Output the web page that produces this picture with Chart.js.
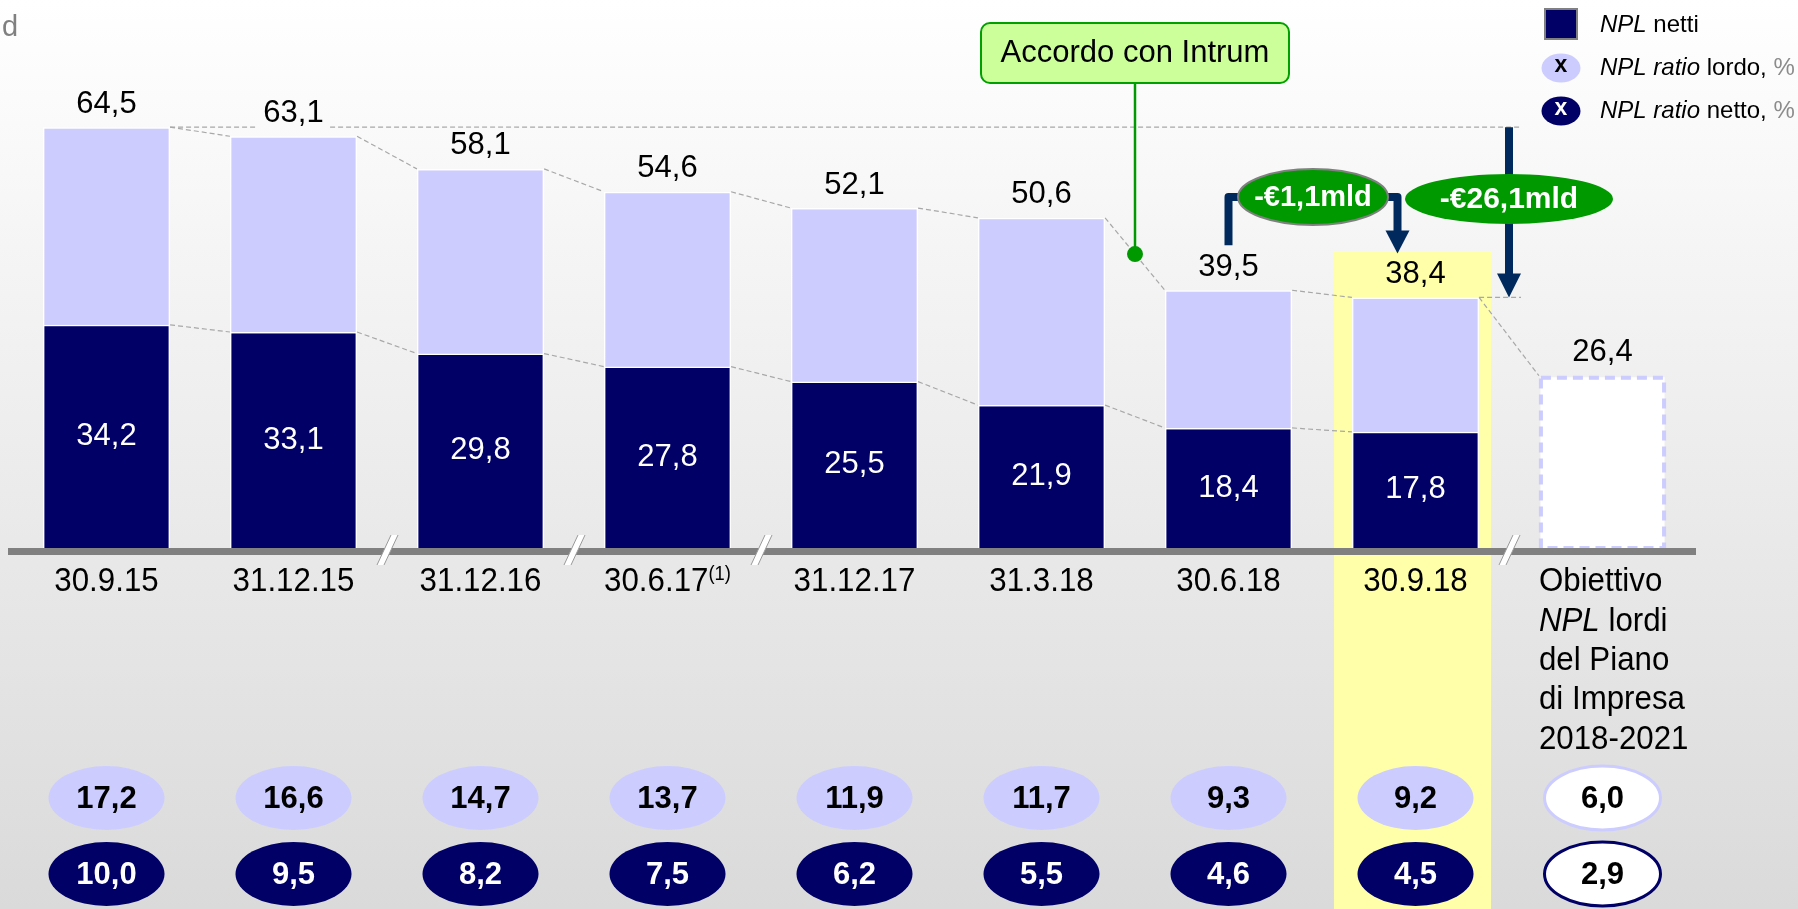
<!DOCTYPE html>
<html>
<head>
<meta charset="utf-8">
<script src="https://cdn.jsdelivr.net/npm/chart.js@4.4.0/dist/chart.umd.min.js"></script>
<style>
  html, body { margin: 0; padding: 0; background: #fff; }
  #nplChart { display: block; width: 1798px; height: 909px; }
</style>
</head>
<body>
<canvas id="nplChart" width="1798" height="909"></canvas>
<script>
const categories = ['30.9.15', '31.12.15', '31.12.16', '30.6.17', '31.12.17', '31.3.18', '30.6.18', '30.9.18', 'Obiettivo NPL lordi del Piano di Impresa 2018-2021'];
const tickLabels = [['30.9.15'], ['31.12.15'], ['31.12.16'], ['30.6.17^(1)'], ['31.12.17'], ['31.3.18'], ['30.6.18'], ['30.9.18'],
  ['Obiettivo', '*NPL* lordi', 'del Piano', 'di Impresa', '2018-2021']];
const nplLordi = [64.5, 63.1, 58.1, 54.6, 52.1, 50.6, 39.5, 38.4, 26.4];
const nplNetti = [34.2, 33.1, 29.8, 27.8, 25.5, 21.9, 18.4, 17.8, null];
const ratioLordo = [17.2, 16.6, 14.7, 13.7, 11.9, 11.7, 9.3, 9.2, 6.0];
const ratioNetto = [10.0, 9.5, 8.2, 7.5, 6.2, 5.5, 4.6, 4.5, 2.9];
const axisBreaks = [1, 2, 3, 7];   // break mark after these categories
const highlightIndex = 7;
const targetIndex = 8;

const FONT = '"Liberation Sans", Arial, sans-serif';
const NAVY = '#000066';
const LILAC = '#ccccff';
const GREEN = '#009900';
const ARROW = '#002a5e';
const fmt = v => v.toFixed(1).replace('.', ',');

function bgGradient(ctx, h) {
  const g = ctx.createLinearGradient(0, 0, 0, h);
  g.addColorStop(0, '#ffffff');
  g.addColorStop(1, '#dadada');
  return g;
}

function parseRuns(s) {
  const runs = [];
  const re = /\*([^*]+)\*|\^(.+)$|([^*^]+)/g;
  let m;
  while ((m = re.exec(s))) {
    if (m[1]) runs.push({ t: m[1], italic: true });
    else if (m[2]) runs.push({ t: m[2], sup: true });
    else runs.push({ t: m[3] });
  }
  return runs;
}

function drawRuns(ctx, runs, x, y, o) {
  const size = o.size, sx = o.sx || 1;
  const fontOf = r => (r.italic ? 'italic ' : '') + (o.bold ? 'bold ' : '') +
    (r.sup ? Math.round(size * 0.6) : size) + 'px ' + FONT;
  let total = 0;
  runs.forEach(r => { ctx.font = fontOf(r); r.w = ctx.measureText(r.t).width * sx; total += r.w; });
  let cx = o.align === 'center' ? x - total / 2 : o.align === 'right' ? x - total : x;
  ctx.save();
  ctx.textAlign = 'left';
  ctx.textBaseline = 'middle';
  runs.forEach(r => {
    ctx.font = fontOf(r);
    ctx.fillStyle = r.color || o.color || '#000';
    ctx.save();
    ctx.translate(cx, y + (r.sup ? -size * 0.22 : 0));
    ctx.scale(sx, 1);
    ctx.fillText(r.t, 0, 0);
    ctx.restore();
    cx += r.w;
  });
  ctx.restore();
  return total;
}

function ellipse(ctx, cx, cy, rx, ry, fill, stroke, lw) {
  ctx.save();
  ctx.beginPath();
  ctx.ellipse(cx, cy, rx, ry, 0, 0, Math.PI * 2);
  ctx.fillStyle = fill;
  ctx.fill();
  if (stroke) { ctx.lineWidth = lw || 2; ctx.strokeStyle = stroke; ctx.stroke(); }
  ctx.restore();
}

const backdrop = {
  id: 'backdrop',
  beforeDraw(chart) {
    const { ctx, width, height, scales: { x, y } } = chart;
    const step = x.getPixelForValue(1) - x.getPixelForValue(0);
    const cx = x.getPixelForValue(highlightIndex);
    const top = y.getPixelForValue(nplLordi[highlightIndex]) - 46;
    ctx.save();
    ctx.fillStyle = bgGradient(ctx, height);
    ctx.fillRect(0, 0, width, height);
    ctx.fillStyle = '#ffffaa';
    ctx.fillRect(cx - step * 0.436, top, step * 0.84, height - top);
    ctx.fillStyle = '#808080';
    ctx.font = '29px ' + FONT;
    ctx.textBaseline = 'alphabetic';
    ctx.fillText('d', 2, 36);
    ctx.restore();
  }
};

const overlay = {
  id: 'overlay',
  afterDatasetsDraw(chart) {
    const { ctx, height, chartArea: ca, scales: { x, y } } = chart;
    const net = chart.getDatasetMeta(0).data;
    const gross = chart.getDatasetMeta(1).data;
    const half = gross[0].width / 2;
    const brk = i => (x.getPixelForValue(i) + x.getPixelForValue(i + 1)) / 2;
    const seg = (x1, y1, x2, y2) => { ctx.beginPath(); ctx.moveTo(x1, y1); ctx.lineTo(x2, y2); ctx.stroke(); };
    ctx.save();

    // dashed connectors between bar tops
    ctx.strokeStyle = '#a8a8a8';
    ctx.lineWidth = 1.2;
    ctx.setLineDash([5, 3]);
    for (let i = 0; i < gross.length - 1; i++) {
      seg(gross[i].x + half, gross[i].y, gross[i + 1].x - half, gross[i + 1].y);
      if (nplNetti[i + 1] != null) seg(net[i].x + half, net[i].y, net[i + 1].x - half, net[i + 1].y);
    }
    const reachX = brk(highlightIndex) + 12;
    seg(gross[0].x + half, gross[0].y, reachX, gross[0].y);
    seg(gross[highlightIndex].x + half, gross[highlightIndex].y, reachX, gross[highlightIndex].y);

    // target bar: dashed outline
    const t = gross[targetIndex];
    ctx.setLineDash([10, 6]);
    ctx.lineWidth = 4;
    ctx.strokeStyle = LILAC;
    ctx.strokeRect(t.x - half + 2, t.y + 2, half * 2 - 4, t.base - t.y - 2);
    ctx.setLineDash([]);

    // axis line and breaks
    ctx.fillStyle = '#808080';
    ctx.fillRect(ca.left - 5, ca.bottom, ca.right - ca.left + 5, 7);
    axisBreaks.forEach(b => {
      const cx = brk(b), yb = ca.bottom + 17, yt = ca.bottom - 13;
      ctx.beginPath();
      ctx.moveTo(cx - 10, yb); ctx.lineTo(cx - 3, yb);
      ctx.lineTo(cx + 11, yt); ctx.lineTo(cx + 4, yt);
      ctx.closePath();
      ctx.fillStyle = '#ffffff';
      ctx.fill();
      ctx.strokeStyle = '#9a9a9a';
      ctx.lineWidth = 1;
      seg(cx - 10, yb, cx + 4, yt);
      seg(cx - 3, yb, cx + 11, yt);
    });

    // value labels
    const grad = bgGradient(ctx, height);
    ctx.font = '31px ' + FONT;
    ctx.textAlign = 'center';
    ctx.textBaseline = 'middle';
    gross.forEach((b, i) => {
      const txt = fmt(nplLordi[i]);
      const ly = b.y - 23;
      if (i !== highlightIndex) {
        const w = ctx.measureText(txt).width + 12;
        ctx.fillStyle = grad;
        ctx.fillRect(b.x - w / 2, ly - 18, w, 36);
      }
      ctx.fillStyle = '#000';
      ctx.fillText(txt, b.x, ly);
    });
    net.forEach((b, i) => {
      if (nplNetti[i] == null) return;
      ctx.fillStyle = '#ffffff';
      ctx.fillText(fmt(nplNetti[i]), b.x, (b.y + b.base) / 2);
    });

    // category labels
    tickLabels.forEach((lines, i) => {
      const cx = x.getPixelForValue(i);
      const left = lines.length > 1;
      lines.forEach((ln, k) => {
        drawRuns(ctx, parseRuns(ln), left ? cx - half : cx, ca.bottom + 34 + k * 39.3,
          { size: 34, sx: 0.92, align: left ? 'left' : 'center' });
      });
    });

    // ratio ellipses
    ratioLordo.forEach((v, i) => {
      const cx = x.getPixelForValue(i);
      const last = i === targetIndex;
      ellipse(ctx, cx, 798, 58, 32, last ? '#ffffff' : LILAC, last ? LILAC : null, 3);
      drawRuns(ctx, [{ t: fmt(v) }], cx, 799, { size: 31, bold: true, align: 'center', color: '#000' });
    });
    ratioNetto.forEach((v, i) => {
      const cx = x.getPixelForValue(i);
      const last = i === targetIndex;
      ellipse(ctx, cx, 874, 58, 32, last ? '#ffffff' : NAVY, last ? NAVY : null, 3);
      drawRuns(ctx, [{ t: fmt(v) }], cx, 875, { size: 31, bold: true, align: 'center', color: last ? '#000' : '#fff' });
    });

    // legend
    ctx.fillStyle = NAVY;
    ctx.fillRect(1545, 9, 32, 30);
    ctx.strokeStyle = '#808080';
    ctx.lineWidth = 2;
    ctx.strokeRect(1545, 9, 32, 30);
    drawRuns(ctx, [{ t: 'NPL', italic: true }, { t: ' netti' }], 1600, 25, { size: 24, align: 'left' });
    ellipse(ctx, 1561, 68, 19.5, 14.5, LILAC);
    drawRuns(ctx, [{ t: 'x' }], 1561, 66, { size: 23, bold: true, align: 'center', color: '#000' });
    drawRuns(ctx, [{ t: 'NPL ratio', italic: true }, { t: ' lordo, ' }, { t: '%', color: '#8c8c8c' }], 1600, 68, { size: 24, align: 'left' });
    ellipse(ctx, 1561, 111, 19.5, 14.5, NAVY);
    drawRuns(ctx, [{ t: 'x' }], 1561, 109, { size: 23, bold: true, align: 'center', color: '#fff' });
    drawRuns(ctx, [{ t: 'NPL ratio', italic: true }, { t: ' netto, ' }, { t: '%', color: '#8c8c8c' }], 1600, 111, { size: 24, align: 'left' });

    // "Accordo con Intrum" callout
    const a = gross[5], c = gross[6];
    const bx = (a.x + c.x) / 2;
    const x1 = a.x + half, x2 = c.x - half;
    const dotY = a.y + (c.y - a.y) * (bx - x1) / (x2 - x1);
    ctx.strokeStyle = GREEN;
    ctx.lineWidth = 2.5;
    seg(bx, 83, bx, dotY);
    ellipse(ctx, bx, dotY, 8, 8, GREEN);
    ctx.beginPath();
    ctx.roundRect(bx - 154, 23, 308, 60, 9);
    ctx.fillStyle = '#ccff99';
    ctx.fill();
    ctx.strokeStyle = '#00a000';
    ctx.lineWidth = 2;
    ctx.stroke();
    drawRuns(ctx, [{ t: 'Accordo con Intrum' }], bx, 53, { size: 31, align: 'center' });

    // -€1,1mld step arrow
    const lx = gross[6].x, rx = gross[7].x - 18, armY = 197;
    const tip1 = gross[7].y - 44;
    ctx.strokeStyle = ARROW;
    ctx.fillStyle = ARROW;
    ctx.lineWidth = 8;
    ctx.lineJoin = 'round';
    ctx.beginPath();
    ctx.moveTo(lx, gross[6].y - 45);
    ctx.lineTo(lx, armY);
    ctx.lineTo(rx, armY);
    ctx.lineTo(rx, tip1 - 20);
    ctx.stroke();
    ctx.beginPath();
    ctx.moveTo(rx - 12, tip1 - 23); ctx.lineTo(rx + 12, tip1 - 23); ctx.lineTo(rx, tip1);
    ctx.closePath(); ctx.fill();
    ellipse(ctx, (lx + rx) / 2, armY, 75, 28, GREEN, '#808080', 2);
    drawRuns(ctx, [{ t: '-€1,1mld' }], (lx + rx) / 2, armY + 1, { size: 29, bold: true, align: 'center', color: '#fff' });

    // -€26,1mld total arrow
    const ax = brk(highlightIndex);
    const topY = gross[0].y, tip2 = gross[highlightIndex].y;
    ctx.strokeStyle = ARROW;
    ctx.fillStyle = ARROW;
    ctx.lineWidth = 8;
    seg(ax, topY, ax, tip2 - 22);
    ctx.beginPath();
    ctx.moveTo(ax - 12, tip2 - 24); ctx.lineTo(ax + 12, tip2 - 24); ctx.lineTo(ax, tip2);
    ctx.closePath(); ctx.fill();
    ellipse(ctx, ax, 199, 104, 25, GREEN);
    drawRuns(ctx, [{ t: '-€26,1mld' }], ax, 200, { size: 30, bold: true, align: 'center', color: '#fff' });

    ctx.restore();
  }
};

new Chart(document.getElementById('nplChart').getContext('2d'), {
  type: 'bar',
  data: {
    labels: categories,
    datasets: [
      {
        label: 'NPL netti',
        data: nplNetti,
        backgroundColor: NAVY,
        borderColor: '#ffffff',
        borderWidth: 1.5,
        grouped: false,
        order: 0
      },
      {
        label: 'NPL lordi',
        data: nplLordi,
        backgroundColor: nplLordi.map((v, i) => i === targetIndex ? '#ffffff' : LILAC),
        borderColor: nplLordi.map((v, i) => i === targetIndex ? 'rgba(0,0,0,0)' : '#ffffff'),
        borderWidth: 1.5,
        grouped: false,
        order: 1
      }
    ]
  },
  options: {
    responsive: false,
    animation: false,
    devicePixelRatio: 1,
    layout: { padding: { left: 13, right: 102, top: 26, bottom: 361 } },
    datasets: { bar: { barPercentage: 0.68, categoryPercentage: 1 } },
    scales: {
      x: { display: false },
      y: { display: false, min: 0, max: 80 }
    },
    plugins: {
      legend: { display: false },
      tooltip: { enabled: false }
    }
  },
  plugins: [backdrop, overlay]
});
</script>
</body>
</html>
